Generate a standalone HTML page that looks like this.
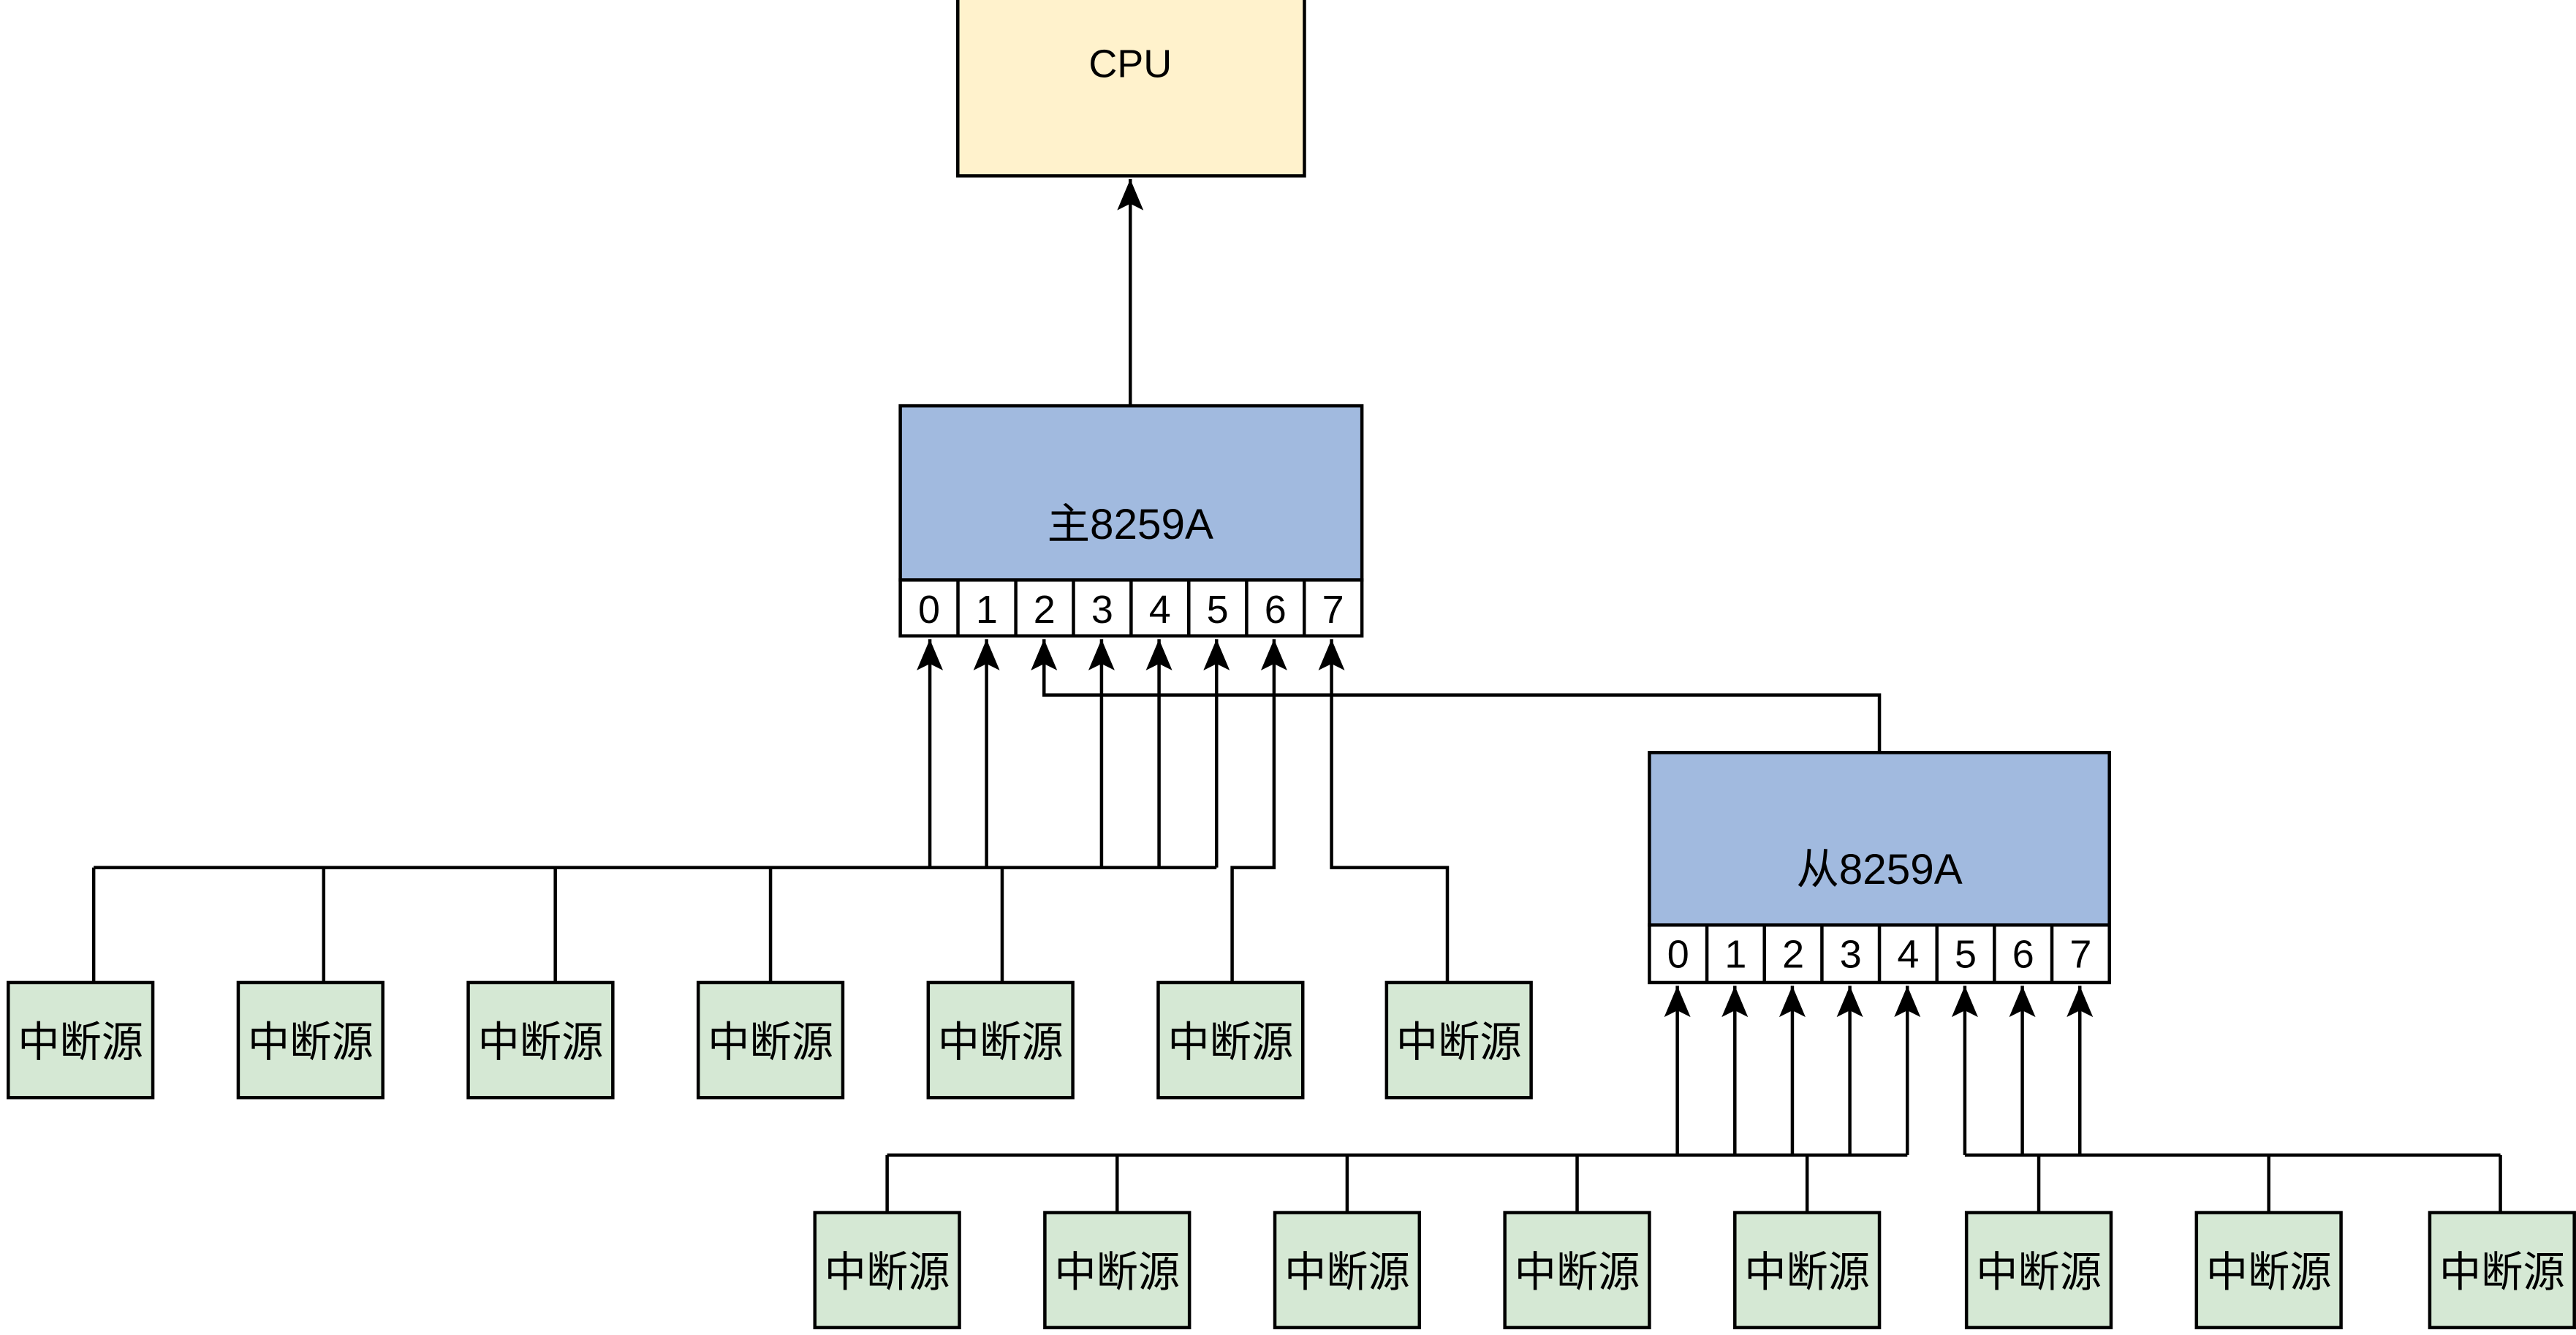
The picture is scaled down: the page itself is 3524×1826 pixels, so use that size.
<!DOCTYPE html>
<html><head><meta charset="utf-8"><style>html,body{margin:0;padding:0;background:#fff;}svg{display:block}</style></head>
<body>
<svg width="3524" height="1826" viewBox="0 0 1568 812.5" xmlns="http://www.w3.org/2000/svg">
<defs>
<marker id="a" markerUnits="userSpaceOnUse" markerWidth="20" markerHeight="18" refX="19" refY="8" orient="auto">
<path d="M19,8 L0,0 L4,8 L0,16 Z" fill="#000"/>
</marker>
</defs>
<g font-family="Liberation Sans, Noto Sans CJK SC, sans-serif" text-anchor="middle" fill="#000">
<rect x="583" y="-3" width="211" height="110" fill="#fff2cc" stroke="#000" stroke-width="2"/>
<text x="688" y="47" font-size="24">CPU</text>
<line x1="688" y1="247" x2="688" y2="109" stroke="#000" stroke-width="2" marker-end="url(#a)"/>

<rect x="548" y="247" width="281" height="106" fill="#a1badf" stroke="#000" stroke-width="2"/>
<text x="688" y="328" font-size="26">主8259A</text>
<g stroke="#000" stroke-width="2" fill="#fff">
<rect x="548" y="353" width="281" height="34"/>
<line x1="583.1" y1="353" x2="583.1" y2="387"/><line x1="618.3" y1="353" x2="618.3" y2="387"/>
<line x1="653.4" y1="353" x2="653.4" y2="387"/><line x1="688.5" y1="353" x2="688.5" y2="387"/>
<line x1="723.6" y1="353" x2="723.6" y2="387"/><line x1="758.8" y1="353" x2="758.8" y2="387"/>
<line x1="793.9" y1="353" x2="793.9" y2="387"/>
</g>
<g font-size="24">
<text x="565.5" y="379">0</text><text x="600.6" y="379">1</text><text x="635.7" y="379">2</text><text x="670.9" y="379">3</text>
<text x="706" y="379">4</text><text x="741.1" y="379">5</text><text x="776.3" y="379">6</text><text x="811.4" y="379">7</text>
</g>

<rect x="1004" y="458" width="280" height="105" fill="#a1badf" stroke="#000" stroke-width="2"/>
<text x="1144" y="538" font-size="26">从8259A</text>
<g stroke="#000" stroke-width="2" fill="#fff">
<rect x="1004" y="563" width="280" height="35"/>
<line x1="1039" y1="563" x2="1039" y2="598"/><line x1="1074" y1="563" x2="1074" y2="598"/>
<line x1="1109" y1="563" x2="1109" y2="598"/><line x1="1144" y1="563" x2="1144" y2="598"/>
<line x1="1179" y1="563" x2="1179" y2="598"/><line x1="1214" y1="563" x2="1214" y2="598"/>
<line x1="1249" y1="563" x2="1249" y2="598"/>
</g>
<g font-size="24">
<text x="1021.5" y="589">0</text><text x="1056.5" y="589">1</text><text x="1091.5" y="589">2</text><text x="1126.5" y="589">3</text>
<text x="1161.5" y="589">4</text><text x="1196.5" y="589">5</text><text x="1231.5" y="589">6</text><text x="1266.5" y="589">7</text>
</g>

<g stroke="#000" stroke-width="2" fill="none">
<line x1="566" y1="528" x2="566" y2="389" marker-end="url(#a)"/>
<line x1="600.5" y1="528" x2="600.5" y2="389" marker-end="url(#a)"/>
<polyline points="1144,458 1144,423 635.5,423 635.5,389" marker-end="url(#a)"/>
<line x1="670.5" y1="528" x2="670.5" y2="389" marker-end="url(#a)"/>
<line x1="705.5" y1="528" x2="705.5" y2="389" marker-end="url(#a)"/>
<line x1="740.5" y1="528" x2="740.5" y2="389" marker-end="url(#a)"/>
<polyline points="750,598 750,528 775.5,528 775.5,389" marker-end="url(#a)"/>
<polyline points="881,598 881,528 810.5,528 810.5,389" marker-end="url(#a)"/>
<line x1="57" y1="528" x2="740.5" y2="528"/>
<line x1="57" y1="528" x2="57" y2="598"/>
<line x1="197" y1="528" x2="197" y2="598"/>
<line x1="338" y1="528" x2="338" y2="598"/>
<line x1="469" y1="528" x2="469" y2="598"/>
<line x1="610" y1="528" x2="610" y2="598"/>

<line x1="1021" y1="703" x2="1021" y2="600" marker-end="url(#a)"/>
<line x1="1056" y1="703" x2="1056" y2="600" marker-end="url(#a)"/>
<line x1="1091" y1="703" x2="1091" y2="600" marker-end="url(#a)"/>
<line x1="1126" y1="703" x2="1126" y2="600" marker-end="url(#a)"/>
<line x1="1161" y1="703" x2="1161" y2="600" marker-end="url(#a)"/>
<line x1="1196" y1="703" x2="1196" y2="600" marker-end="url(#a)"/>
<line x1="1231" y1="703" x2="1231" y2="600" marker-end="url(#a)"/>
<line x1="1266" y1="703" x2="1266" y2="600" marker-end="url(#a)"/>
<line x1="540" y1="703" x2="1161" y2="703"/>
<line x1="1196" y1="703" x2="1522" y2="703"/>
<line x1="540" y1="703" x2="540" y2="738"/>
<line x1="680" y1="703" x2="680" y2="738"/>
<line x1="820" y1="703" x2="820" y2="738"/>
<line x1="960" y1="703" x2="960" y2="738"/>
<line x1="1100" y1="703" x2="1100" y2="738"/>
<line x1="1241" y1="703" x2="1241" y2="738"/>
<line x1="1381" y1="703" x2="1381" y2="738"/>
<line x1="1522" y1="703" x2="1522" y2="738"/>
</g>

<g stroke="#000" stroke-width="2" fill="#d5e8d4">
<rect x="5" y="598" width="88" height="70"/><rect x="145" y="598" width="88" height="70"/>
<rect x="285" y="598" width="88" height="70"/><rect x="425" y="598" width="88" height="70"/>
<rect x="565" y="598" width="88" height="70"/><rect x="705" y="598" width="88" height="70"/>
<rect x="844" y="598" width="88" height="70"/>
<rect x="496" y="738" width="88" height="70"/><rect x="636" y="738" width="88" height="70"/>
<rect x="776" y="738" width="88" height="70"/><rect x="916" y="738" width="88" height="70"/>
<rect x="1056" y="738" width="88" height="70"/><rect x="1197" y="738" width="88" height="70"/>
<rect x="1337" y="738" width="88" height="70"/><rect x="1479" y="738" width="88" height="70"/>
</g>
<g font-size="25.5">
<text x="49" y="643">中断源</text><text x="189" y="643">中断源</text><text x="329" y="643">中断源</text>
<text x="469" y="643">中断源</text><text x="609" y="643">中断源</text><text x="749" y="643">中断源</text>
<text x="888" y="643">中断源</text>
<text x="540" y="783">中断源</text><text x="680" y="783">中断源</text><text x="820" y="783">中断源</text>
<text x="960" y="783">中断源</text><text x="1100" y="783">中断源</text><text x="1241" y="783">中断源</text>
<text x="1381" y="783">中断源</text><text x="1523" y="783">中断源</text>
</g>
</g>
</svg>
</body></html>
